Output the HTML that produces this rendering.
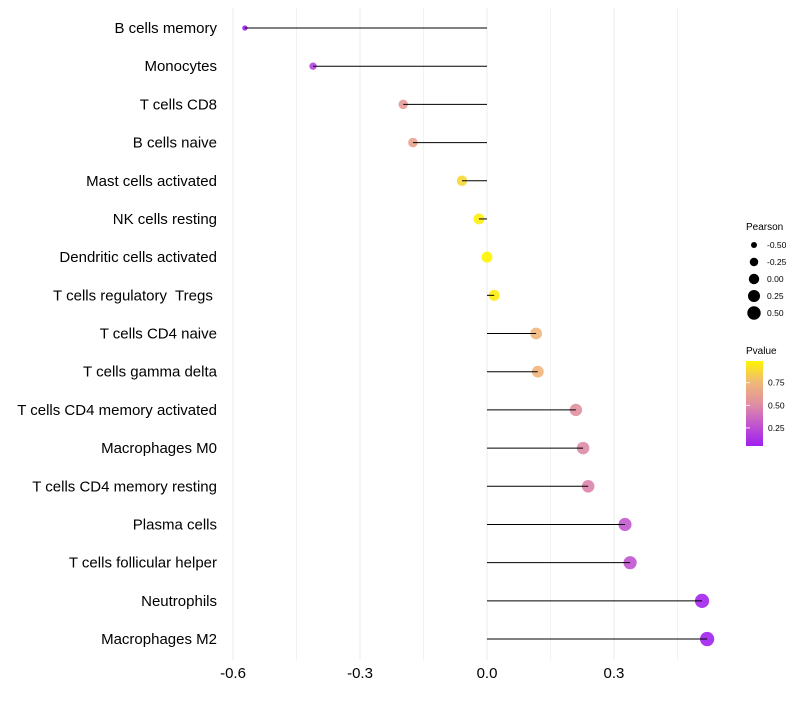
<!DOCTYPE html>
<html><head><meta charset="utf-8"><style>
body{margin:0;background:#fff;font-family:"Liberation Sans",sans-serif}
text{white-space:pre}
</style></head><body>
<svg id="c" width="800" height="700" xmlns="http://www.w3.org/2000/svg">
<defs><linearGradient id="pg" x1="0" y1="1" x2="0" y2="0">
<stop offset="0" stop-color="#A020F0"/><stop offset="0.3" stop-color="#C860C8"/><stop offset="0.5" stop-color="#E090A0"/><stop offset="0.75" stop-color="#F0B878"/><stop offset="1" stop-color="#FFF400"/>
</linearGradient></defs>
<g id="grid"></g><g id="dots"></g><g id="marks"></g><g id="labels"></g>
<g font-size="9" fill="#000">
<text x="746" y="230" font-size="10">Pearson</text>
<g id="sizeleg"></g>
<text x="746" y="354" font-size="10">Pvalue</text>
<rect x="746" y="361" width="17" height="85" fill="url(#pg)"/>
<g id="cticks"></g>
</g>
</svg>
<script>
const cells=["B cells memory","Monocytes","T cells CD8","B cells naive","Mast cells activated","NK cells resting","Dendritic cells activated","T cells regulatory  Tregs ","T cells CD4 naive","T cells gamma delta","T cells CD4 memory activated","Macrophages M0","T cells CD4 memory resting","Plasma cells","T cells follicular helper","Neutrophils","Macrophages M2"];
const pearson=[-0.572,-0.411,-0.198,-0.175,-0.059,-0.019,0.0,0.017,0.116,0.12,0.21,0.227,0.239,0.326,0.338,0.508,0.52];
const pvalue=[0.05,0.2,0.58,0.63,0.88,0.97,0.99,0.96,0.74,0.74,0.52,0.5,0.47,0.3,0.28,0.07,0.06];
const xTicks=[-0.6,-0.3,0.0,0.3];
const xTickLabels=["-0.6","-0.3","0.0","0.3"];
const sizeLegendVals=[-0.5,-0.25,0,0.25,0.5];
const pTicks=[0.25,0.5,0.75];
const NS="http://www.w3.org/2000/svg";
const X=v=>487+v*423.3;
const Y=i=>28+i*38.19;
const R=v=>Math.sqrt(Math.max(4,30+40*v));
const P=p=>446-(p-0.05)/0.94*85;
const stops=[[0,[160,32,240]],[0.3,[200,96,200]],[0.5,[224,144,160]],[0.75,[240,184,120]],[1,[255,244,0]]];
function col(p){let t=Math.max(0,Math.min(1,(p-0.05)/0.94));for(let k=1;k<stops.length;k++){if(t<=stops[k][0]){const a=stops[k-1],b=stops[k],f=(t-a[0])/(b[0]-a[0]);return "rgb("+a[1].map((c,j)=>Math.round(c+(b[1][j]-c)*f)).join(",")+")";}}return "rgb(255,244,0)";}
function mk(tag,attrs,parent){const e=document.createElementNS(NS,tag);for(const k in attrs)e.setAttribute(k,attrs[k]);document.getElementById(parent).appendChild(e);return e;}
[-0.45,-0.15,0.15,0.45].forEach(v=>{const l=mk("line",{x1:X(v),x2:X(v),y1:8,y2:660,stroke:"#f2f2f2","stroke-width":1},"grid");

});
xTicks.forEach((v,i)=>{const l=mk("line",{x1:X(v),x2:X(v),y1:8,y2:660,stroke:"#ebebeb","stroke-width":1},"grid");


const t=mk("text",{x:X(v),y:678,"text-anchor":"middle","font-size":15,fill:"#000"},"labels");t.textContent=xTickLabels[i];

});
cells.forEach((c,i)=>{const y=Y(i);
const t=mk("text",{x:217,y:y+5,"text-anchor":"end","font-size":15,fill:"#000"},"labels");t.textContent=c;


const d=mk("circle",{cx:X(pearson[i]),cy:y,r:R(pearson[i]),fill:col(pvalue[i]),"fill-opacity":0.9},"dots");


const s=mk("line",{x1:X(0),x2:X(pearson[i]),y1:y,y2:y,stroke:"#000","stroke-width":1},"marks");

});
sizeLegendVals.forEach((v,i)=>{const y=245+i*17;
const d=mk("circle",{cx:754,cy:y,r:R(v)*0.95,fill:"#000"},"sizeleg");


const t=mk("text",{x:767,y:y+3,"font-size":8.5},"sizeleg");t.textContent=v.toFixed(2);

});
pTicks.forEach(p=>{const y=P(p);
const l=mk("line",{x1:746,x2:750,y1:y,y2:y,stroke:"#fff","stroke-width":0.8},"cticks");


const t=mk("text",{x:768,y:y+3,"font-size":8.5},"cticks");t.textContent=p.toFixed(2);

});
</script>
</body></html>
